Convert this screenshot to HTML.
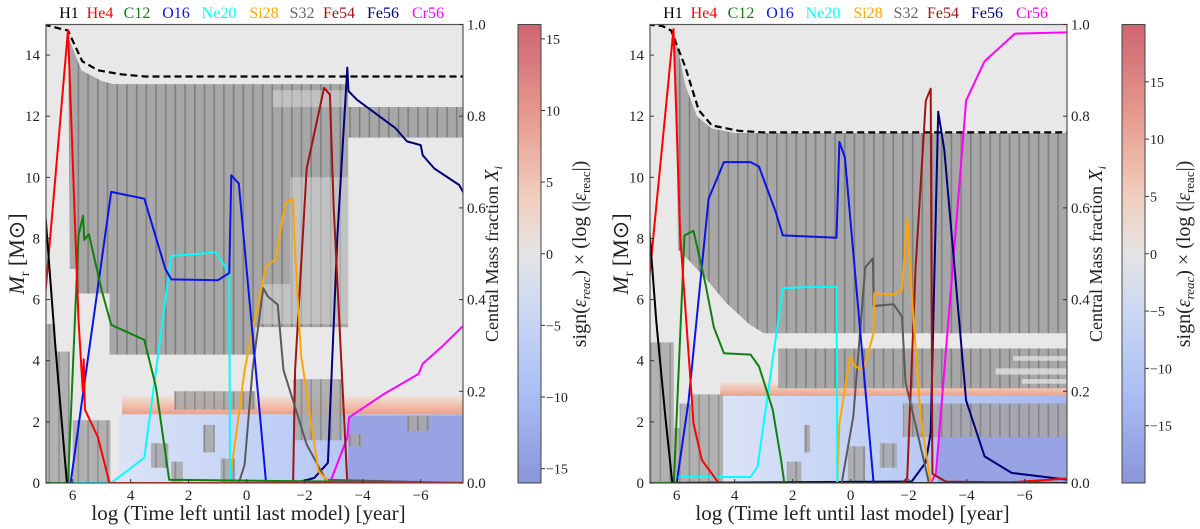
<!DOCTYPE html>
<html><head><meta charset="utf-8"><title>Kippenhahn diagrams</title>
<style>
html,body{margin:0;padding:0;background:#fff;}
svg{display:block;font-family:"Liberation Serif",serif;}
</style></head>
<body>
<svg id="fig" width="1200" height="529" viewBox="0 0 1200 529">
<defs>
<pattern id="stripes" patternUnits="userSpaceOnUse" width="9.7" height="10">
<rect width="9.7" height="10" fill="#a7a7a7"/><rect x="0" width="1.6" height="10" fill="#7f7f7f"/>
</pattern>
<linearGradient id="cbgrad" x1="0" y1="0" x2="0" y2="1">
<stop offset="0" stop-color="#cd6573"/><stop offset="0.2" stop-color="#e69a8e"/>
<stop offset="0.38" stop-color="#f1cfbf"/><stop offset="0.5" stop-color="#e4e4e4"/>
<stop offset="0.62" stop-color="#cdd9f2"/><stop offset="0.8" stop-color="#aabff5"/>
<stop offset="1" stop-color="#8a94d8"/>
</linearGradient>
<linearGradient id="blueL" x1="0" y1="0" x2="1" y2="0">
<stop offset="0" stop-color="#dbe3f5"/><stop offset="0.5" stop-color="#bccdf5"/><stop offset="1" stop-color="#a9b8ee"/>
</linearGradient>
<linearGradient id="orangeBand" x1="0" y1="0" x2="0" y2="1">
<stop offset="0" stop-color="#efe0d8"/><stop offset="0.6" stop-color="#efbca8"/><stop offset="1" stop-color="#eba08c"/>
</linearGradient>
</defs>
</svg>
<script>
// ---------- data (x = log time left [yr], y = central mass fraction / Mr) ----------
const species = ['H1','He4','C12','O16','Ne20','Si28','S32','Fe54','Fe56','Cr56'];
const speciesColors = ['#000000','#ff0000','#108010','#0a14e6','#00ffff','#ffa500','#5a5a5a','#a01414','#00007a','#ff00ff'];
const legendXs = [69,100,137,176,219,264,302,339,383,428];
const xTicks = [6,4,2,0,-2,-4,-6];
const xTickLabels = ['6','4','2','0','\u22122','\u22124','\u22126'];
const mTicks = [0,2,4,6,8,10,12,14];
const fTicks = [0,0.2,0.4,0.6,0.8,1.0];
const fTickLabels = ['0.0','0.2','0.4','0.6','0.8','1.0'];
const cbTicksL = [-15,-10,-5,0,5,10,15];
const cbTicksR = [-15,-10,-5,0,5,10,15];
const cbRangeL = 16;
const cbRangeR = 20;

// left panel abundance curves [logt, X]
const L_H1 = [[7,0.635],[6.6,0.3],[6.2,0]];
const L_He4 = [[7,0.37],[6.16,0.988],[5.8,0.356],[5.65,0.2],[5.62,0.27],[5.58,0.16],[5.13,0.1],[4.73,0],[-7.5,0]];
const L_C12 = [[7,0],[6.16,0],[5.8,0.54],[5.64,0.583],[5.6,0.53],[5.44,0.543],[5,0.42],[4.67,0.345],[3.53,0.312],[3.13,0.21],[2.67,0.007],[-7.5,0]];
const L_O16 = [[7,0],[6.07,0],[5.53,0.246],[4.67,0.635],[3.53,0.62],[2.8,0.466],[2.6,0.444],[1.0,0.442],[0.6,0.458],[0.53,0.671],[0.27,0.653],[-0.67,0],[-7.5,0]];
const L_Ne20 = [[7,0],[4.67,0],[3.53,0.055],[2.6,0.495],[1.07,0.503],[0.6,0.458],[0.57,0],[-7.5,0]];
const L_Si28 = [[7,0],[0.6,0],[0.33,0.121],[0.07,0.246],[-0.2,0.334],[-0.67,0.473],[-1.0,0.488],[-1.33,0.61],[-1.6,0.62],[-1.64,0.54],[-1.87,0.282],[-2.47,0.026],[-2.87,0],[-7.5,0]];
const L_S32 = [[7,0],[0.27,0],[0.07,0.04],[-0.2,0.246],[-0.57,0.425],[-0.73,0.407],[-1.07,0.389],[-1.27,0.246],[-1.53,0.194],[-2.07,0.084],[-2.73,0.007],[-7.5,0]];
const L_Fe54 = [[7,0],[-1.6,0],[-1.67,0.246],[-2.07,0.686],[-2.67,0.862],[-2.87,0.847],[-3.0,0.6],[-3.47,0],[-7.5,0]];
const L_Fe56 = [[7,0],[-1.67,0],[-2.33,0.011],[-2.8,0.044],[-3.13,0.539],[-3.47,0.906],[-3.51,0.855],[-3.8,0.836],[-5.13,0.774],[-5.53,0.745],[-6.0,0.737],[-6.07,0.715],[-6.47,0.686],[-7.33,0.65],[-7.5,0.63]];
const L_Cr56 = [[7,0],[-2.87,0],[-3.47,0.099],[-3.53,0.143],[-4.73,0.194],[-5.93,0.238],[-6.07,0.26],[-6.73,0.297],[-7.5,0.345]];
const L_surface = [[7,15],[6.16,14.8],[5.67,13.8],[5.13,13.5],[4.33,13.37],[3.5,13.3],[-7.5,13.3]];

// right panel abundance curves
const R_H1 = [[7,0.6],[6.7,0.35],[6.4,0.15],[6.15,0],[-7.5,0]];
const R_He4 = [[7,0.41],[6.11,0.99],[5.88,0.54],[5.42,0.13],[5.13,0.05],[4.55,0],[-5.2,0],[-7.5,0.01]];
const R_C12 = [[7,0],[6.1,0],[5.73,0.54],[5.42,0.55],[5.01,0.435],[4.72,0.34],[4.37,0.283],[3.45,0.28],[3.16,0.254],[2.69,0.16],[2.4,0.05],[2.29,0],[-7.5,0]];
const R_O16 = [[7,0],[6.0,0],[5.59,0.18],[4.9,0.62],[4.37,0.70],[3.45,0.70],[3.16,0.69],[2.58,0.59],[2.34,0.54],[0.49,0.535],[0.39,0.744],[0.2,0.71],[-0.79,0],[-7.5,0]];
const R_Ne20 = [[7,0],[6.1,0],[6.08,0.013],[3.45,0.013],[3.21,0.036],[2.34,0.425],[1.65,0.427],[0.49,0.428],[0.46,0],[-7.5,0]];
const R_Si28 = [[7,0],[0.46,0],[0.39,0.13],[0.02,0.276],[-0.15,0.254],[-0.44,0.247],[-0.79,0.327],[-0.81,0.414],[-1.48,0.411],[-1.77,0.42],[-1.95,0.577],[-2.12,0.40],[-2.41,0.145],[-2.76,0],[-7.5,0]];
const R_S32 = [[7,0],[0.31,0],[-0.09,0.145],[-0.5,0.47],[-0.77,0.49],[-0.79,0.386],[-1.48,0.39],[-1.77,0.363],[-1.89,0.22],[-2.3,0.11],[-2.7,0],[-7.5,0]];
const R_Fe54 = [[7,0],[-1.77,0],[-1.95,0.01],[-2.24,0.47],[-2.59,0.834],[-2.76,0.86],[-2.82,0.02],[-3.28,0.003],[-7.5,0]];
const R_Fe56 = [[7,0],[-1.77,0.003],[-2.1,0.003],[-2.59,0.045],[-2.76,0.11],[-3.02,0.81],[-3.23,0.726],[-3.98,0.18],[-4.62,0.058],[-5.55,0.022],[-7.5,0.007]];
const R_Cr56 = [[7,0],[-2.76,0],[-2.94,0.02],[-3.57,0.51],[-3.98,0.834],[-4.62,0.92],[-5.66,0.98],[-7.5,0.983]];
const R_surface = [[7,15],[6.5,14.95],[6.19,14.8],[5.7,13.6],[5.24,12.2],[4.79,11.7],[3.85,11.52],[3.0,11.47],[-7.5,11.47]];

// convective / burning regions [logt, Mr] polygons
const L_conv = [[6.15,14.6],[5.7,13.5],[5.0,13.15],[4.6,13.05],[-3.5,13.05],[-3.5,5.1],[-0.3,5.1],[-0.3,4.2],[4.73,4.2],[4.73,6.2],[5.85,6.2],[5.9,7.0],[6.1,7.0]];
const L_convUpperRight = [[-3.5,12.3],[-7.46,12.3],[-7.46,11.3],[-3.5,11.3]];
const L_lightGaps = [[[-0.9,12.85],[-3.4,12.85],[-3.4,12.3],[-0.9,12.3]],[[-1.5,10],[-3.5,10],[-3.5,5.2],[-1.5,5.2]],[[-0.5,6.5],[-1.5,6.5],[-1.5,5.2],[-0.5,5.2]]];
const L_grayLow = [[[7,0],[6.6,0],[6.6,5.2],[7,5.2]],[[6.6,0],[6.1,0],[6.1,4.3],[6.6,4.3]],[[6.0,0],[4.7,0],[4.7,2.05],[6.0,2.05]],[[3.3,0.5],[2.7,0.5],[2.7,1.3],[3.3,1.3]],[[2.6,0],[2.2,0],[2.2,0.7],[2.6,0.7]],[[1.5,1.0],[1.1,1.0],[1.1,1.9],[1.5,1.9]],[[0.9,0],[0.4,0],[0.4,0.8],[0.9,0.8]],[[2.5,2.4],[-0.3,2.4],[-0.3,3.0],[2.5,3.0]],[[-1.6,1.4],[-3.3,1.4],[-3.3,3.4],[-1.6,3.4]],[[-3.5,1.2],[-4.0,1.2],[-4.0,1.6],[-3.5,1.6]],[[-5.5,1.7],[-6.3,1.7],[-6.3,2.2],[-5.5,2.2]]];
const L_blue = [[4.4,0],[-7.46,0],[-7.46,2.25],[4.4,2.25]];
const L_blueDark = [[-3.5,0],[-7.46,0],[-7.46,2.2],[-3.5,2.2]];
const L_orange = [[4.3,2.25],[-7.46,2.25],[-7.46,2.85],[4.3,2.85]];

const R_conv = [[6.05,14.6],[5.7,13.0],[5.3,12.0],[4.8,11.6],[4.0,11.45],[-7.46,11.45],[-7.46,4.9],[3.0,4.9],[3.5,5.2],[4.3,5.9],[5.0,6.7],[5.5,7.2],[5.9,7.6],[5.95,7.6]];
const R_convLow = [[2.5,3.1],[-7.46,3.1],[-7.46,4.4],[2.5,4.4]];
const R_lightGaps = [[[-5.0,3.75],[-7.46,3.75],[-7.46,3.55],[-5.0,3.55]],[[-5.6,4.15],[-7.46,4.15],[-7.46,4.0],[-5.6,4.0]],[[-5.9,3.4],[-7.46,3.4],[-7.46,3.25],[-5.9,3.25]]];
const R_grayLow = [[[7,0],[6.1,0],[6.1,4.6],[7,4.6]],[[6.1,0],[5.9,0],[5.9,1.8],[6.1,1.8]],[[5.9,0],[5.5,0],[5.5,2.6],[5.9,2.6]],[[5.5,0],[4.4,0],[4.4,2.9],[5.5,2.9]],[[2.2,0],[1.7,0],[1.7,0.7],[2.2,0.7]],[[1.6,1.0],[1.4,1.0],[1.4,1.9],[1.6,1.9]],[[0.1,0],[-0.5,0],[-0.5,1.2],[0.1,1.2]],[[-1.0,0.5],[-1.6,0.5],[-1.6,1.3],[-1.0,1.3]],[[-1.8,1.5],[-7.46,1.5],[-7.46,2.6],[-1.8,2.6]]];
const R_blue = [[4.4,0],[-7.46,0],[-7.46,2.85],[4.4,2.85]];
const R_blueDark = [[-3.0,0],[-7.46,0],[-7.46,2.6],[-3.0,2.6]];
const R_orange = [[4.5,2.85],[-7.46,2.85],[-7.46,3.3],[4.5,3.3]];

// ---------- drawing ----------
const NS = 'http://www.w3.org/2000/svg';
const svg = document.getElementById('fig');
function mk(tag, attrs, parent){
  const e = document.createElementNS(NS, tag);
  for (const k in attrs) e.setAttribute(k, attrs[k]);
  (parent || svg).appendChild(e);
  return e;
}
function drawPanel(p){
  const X0 = 6.92, X1 = -7.46, W = 417, T = 24.5, B = 483;
  const sx = v => p.ox + (X0 - v) / (X0 - X1) * W;
  const sm = v => B - v / 15 * (B - T);
  const sf = v => B - v * (B - T);
  const g = mk('g', {});
  
  
  const clipId = 'clip' + p.ox;
  const cp = mk('clipPath', {id: clipId}, g);
  mk('rect', {x: p.ox, y: T, width: W, height: B - T}, cp);
  const plot = mk('g', {'clip-path': 'url(#' + clipId + ')'}, g);
  
  
  const bg = mk('rect', {x: p.ox, y: T, width: W, height: B - T, fill: '#e8e8e8'}, plot);
  
  
  const poly = (pts, attrs, name) => {
    const e = mk('polygon', Object.assign({points: pts.map(q => sx(q[0]).toFixed(1) + ',' + sm(q[1]).toFixed(1)).join(' ')}, attrs), plot);
    
    
    return e;
  };
  poly(p.blue, {fill: 'url(#blueL)'}, 'energy-loss-region');
  poly(p.blueDark, {fill: '#97a3e2'}, 'strong-energy-loss-region');
  poly(p.orange, {fill: 'url(#orangeBand)'}, 'burning-shell-band');
  poly(p.conv, {fill: 'url(#stripes)'}, 'convective-zone');
  poly(p.conv2, {fill: 'url(#stripes)'}, 'convective-zone-secondary');
  p.gaps.forEach(q => poly(q, {fill: '#e4e4e4', 'fill-opacity': p.gapOpacity}, 'radiative-gap'));
  p.grayLow.forEach(q => poly(q, {fill: 'url(#stripes)', 'fill-opacity': 0.85}, 'convective-zone-core'));
  const sl = mk('polyline', {points: p.surface.map(q => sx(q[0]).toFixed(1) + ',' + sm(q[1]).toFixed(1)).join(' '), fill: 'none', stroke: '#000', 'stroke-width': 2.2, 'stroke-dasharray': '7,4'}, plot);
  
  
  for (let i = species.length - 1; i >= 0; i--) {
    const s = p.series[i];
    const l = mk('polyline', {points: s.map(q => sx(q[0]).toFixed(1) + ',' + sf(q[1]).toFixed(1)).join(' '), fill: 'none', stroke: speciesColors[i], 'stroke-width': 2, 'stroke-linejoin': 'round'}, plot);
    
    
  }
  const fr = mk('rect', {x: p.ox, y: T, width: W, height: B - T, fill: 'none', stroke: '#555', 'stroke-width': 1.2}, g);
  
  
  xTicks.forEach((v, i) => {
    mk('line', {x1: sx(v), x2: sx(v), y1: B, y2: B - 4, stroke: '#333'}, g);
    const t = mk('text', {x: sx(v), y: B + 17, 'text-anchor': 'middle', 'font-size': 15, fill: '#222'}, g);
    t.textContent = xTickLabels[i];
    
    
  });
  const xl = mk('text', {x: p.ox + W / 2 - 6, y: 520, 'text-anchor': 'middle', 'font-size': 21, fill: '#222'}, g);
  xl.textContent = 'log (Time left until last model) [year]';
  
  
  mTicks.forEach(v => {
    mk('line', {x1: p.ox, x2: p.ox + 4, y1: sm(v), y2: sm(v), stroke: '#333'}, g);
    const t = mk('text', {x: p.ox - 6, y: sm(v) + 5, 'text-anchor': 'end', 'font-size': 15, fill: '#222'}, g);
    t.textContent = String(v);
    
    
  });
  const yl = mk('text', {x: 0, y: 0, transform: 'translate(' + (p.ox - 22) + ',254) rotate(-90)', 'text-anchor': 'middle', 'font-size': 22, fill: '#222'}, g);
  yl.innerHTML = '<tspan font-style="italic">M</tspan><tspan font-size="14" dy="5">r</tspan><tspan dy="-5"> [M</tspan><tspan>\u2299</tspan><tspan>]</tspan>';
  
  
  fTicks.forEach((v, i) => {
    mk('line', {x1: p.ox + W, x2: p.ox + W - 4, y1: sf(v), y2: sf(v), stroke: '#333'}, g);
    const t = mk('text', {x: p.ox + W + 4, y: sf(v) + 5, 'font-size': 15, fill: '#222'}, g);
    t.textContent = fTickLabels[i];
    
    
  });
  const y2 = mk('text', {x: 0, y: 0, transform: 'translate(' + (p.ox + W + 35) + ',254) rotate(-90)', 'text-anchor': 'middle', 'font-size': 18, fill: '#222'}, g);
  y2.innerHTML = 'Central Mass fraction <tspan font-style="italic" font-size="20">X</tspan><tspan font-style="italic" font-size="12" dy="4">i</tspan>';
  
  
  species.forEach((s, i) => {
    const t = mk('text', {x: p.ox - 46 + legendXs[i], y: 18, 'text-anchor': 'middle', 'font-size': 16, fill: speciesColors[i] === '#5a5a5a' ? '#666' : speciesColors[i]}, g);
    t.textContent = s;
    
    
  });
  const cx = p.ox + 472, cw = 23;
  const cb = mk('rect', {x: cx, y: T, width: cw, height: B - T, fill: 'url(#cbgrad)', stroke: '#444', 'stroke-width': 1}, g);
  
  
  const sc = v => (T + B) / 2 - v / p.cbRange * (B - T) / 2;
  p.cbTicks.forEach(v => {
    mk('line', {x1: cx + cw, x2: cx + cw + 4, y1: sc(v), y2: sc(v), stroke: '#333'}, g);
    const t = mk('text', {x: cx + cw + 5, y: sc(v) + 5, 'font-size': 14, fill: '#222'}, g);
    t.textContent = v < 0 ? '\u2212' + Math.abs(v) : String(v);
    
    
  });
  const ct = mk('text', {x: 0, y: 0, transform: 'translate(' + (cx + 68) + ',254) rotate(-90)', 'text-anchor': 'middle', 'font-size': 20, fill: '#222'}, g);
  ct.innerHTML = 'sign(<tspan font-style="italic">\u03b5</tspan><tspan font-style="italic" font-size="13" dy="4">reac</tspan><tspan dy="-4">) \u00d7 (log (|</tspan><tspan font-style="italic">\u03b5</tspan><tspan font-size="13" dy="4">reac</tspan><tspan dy="-4">|)</tspan>';
  
  
}
drawPanel({name: 'left-panel', ox: 46, series: [L_H1,L_He4,L_C12,L_O16,L_Ne20,L_Si28,L_S32,L_Fe54,L_Fe56,L_Cr56], surface: L_surface,
  conv: L_conv, conv2: L_convUpperRight, gaps: L_lightGaps, gapOpacity: 0.45, grayLow: L_grayLow, blue: L_blue, blueDark: L_blueDark, orange: L_orange, cbTicks: cbTicksL, cbRange: cbRangeL});
drawPanel({name: 'right-panel', ox: 650, series: [R_H1,R_He4,R_C12,R_O16,R_Ne20,R_Si28,R_S32,R_Fe54,R_Fe56,R_Cr56], surface: R_surface,
  conv: R_conv, conv2: R_convLow, gaps: R_lightGaps, gapOpacity: 0.75, grayLow: R_grayLow, blue: R_blue, blueDark: R_blueDark, orange: R_orange, cbTicks: cbTicksR, cbRange: cbRangeR});
</script>
</body></html>
